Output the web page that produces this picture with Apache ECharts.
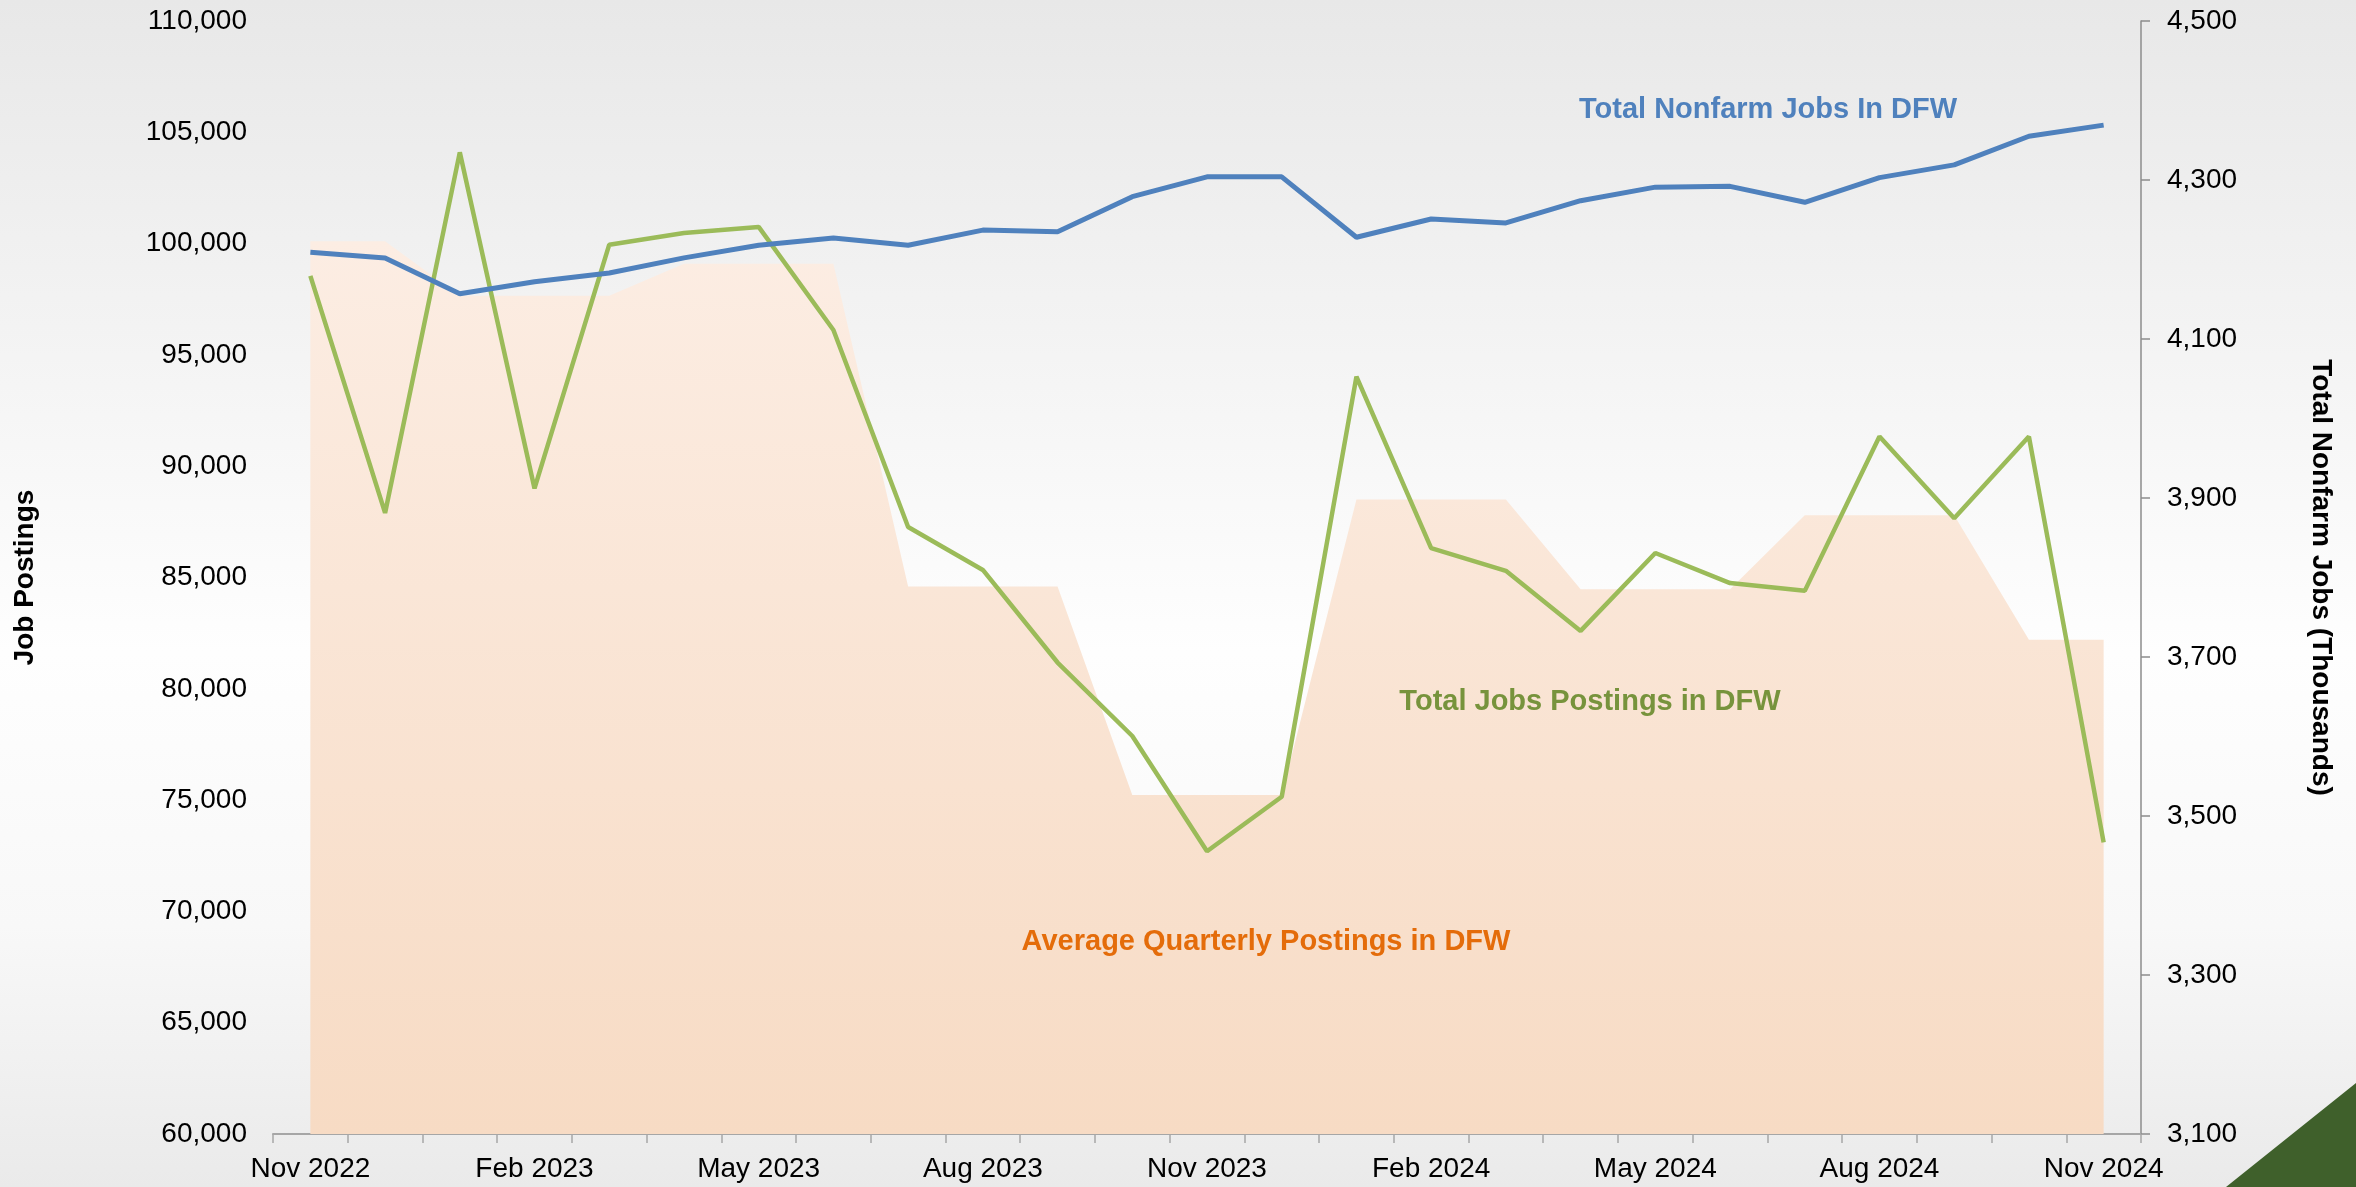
<!DOCTYPE html>
<html>
<head>
<meta charset="utf-8">
<title>DFW Job Postings vs Nonfarm Jobs</title>
<script src="https://cdn.jsdelivr.net/npm/echarts@6/dist/echarts.min.js"></script>
<style>
  html, body { margin: 0; padding: 0; }
  #main { width: 2356px; height: 1187px; }
</style>
</head>
<body>
<div id="main"></div>
<script>
// months on the x axis
var months = [
  'Nov 2022', 'Dec 2022', 'Jan 2023', 'Feb 2023', 'Mar 2023', 'Apr 2023', 'May 2023',
  'Jun 2023', 'Jul 2023', 'Aug 2023', 'Sep 2023', 'Oct 2023', 'Nov 2023', 'Dec 2023',
  'Jan 2024', 'Feb 2024', 'Mar 2024', 'Apr 2024', 'May 2024', 'Jun 2024', 'Jul 2024',
  'Aug 2024', 'Sep 2024', 'Oct 2024', 'Nov 2024'
];

// Total job postings in DFW (left axis)
var jobPostings = [
  98550, 87900, 104100, 89000, 99950, 100480, 100750, 96120, 87270, 85340, 81180, 77880,
  72700, 75150, 94020, 86320, 85300, 82600, 86100, 84750, 84400, 91330, 87660, 91330, 73100
];

// average quarterly postings (left axis, area)
var avgQuarterlyPostings = [
  100100, 100100, 97660, 97660, 97660, 99100, 99100, 99100, 84600, 84600, 84600, 75230,
  75230, 75230, 88500, 88500, 88500, 84470, 84470, 84470, 87800, 87800, 87800, 82200, 82200
];

// total nonfarm jobs in DFW, thousands (right axis)
var nonfarmJobs = [
  4209, 4202, 4157, 4172, 4183, 4202, 4218, 4227, 4218, 4237, 4235, 4279,
  4304, 4304, 4228, 4251, 4246, 4274, 4291, 4292, 4272, 4303, 4319, 4355, 4369
];

// tick labels
var postingTicks = [60000, 65000, 70000, 75000, 80000, 85000, 90000, 95000, 100000, 105000, 110000];
var nonfarmTicks = [3100, 3300, 3500, 3700, 3900, 4100, 4300, 4500];

var FONT = '"Liberation Sans", Arial, sans-serif';

function fmt(v) {
  return Number(v).toLocaleString('en-US');
}

var myChart = echarts.init(document.getElementById('main'));

var option = {
  animation: false,
  backgroundColor: new echarts.graphic.LinearGradient(0, 0, 0, 1, [
    { offset: 0, color: '#e8e8e8' },
    { offset: 0.55, color: '#fefefe' },
    { offset: 0.78, color: '#f8f8f8' },
    { offset: 1, color: '#eaeaea' }
  ]),
  textStyle: { fontFamily: FONT },
  grid: {
    left: 273,
    right: 215,
    top: 21,
    bottom: 53,
    containLabel: false,
    outerBoundsMode: 'none'
  },
  xAxis: {
    type: 'category',
    data: months,
    boundaryGap: true,
    axisLine: { lineStyle: { color: '#a6a6a6', width: 2 } },
    axisTick: { show: true, interval: 0, length: 9, lineStyle: { color: '#a6a6a6', width: 1.5 } },
    axisLabel: {
      interval: 2,
      margin: 21,
      color: '#000',
      fontSize: 28,
      fontFamily: FONT
    },
    splitLine: { show: false }
  },
  yAxis: [
    {
      type: 'value',
      position: 'left',
      min: postingTicks[0],
      max: postingTicks[postingTicks.length - 1],
      name: 'Job Postings',
      nameLocation: 'middle',
      nameGap: 234,
      nameTextStyle: { color: '#000', fontSize: 28, fontWeight: 'bold', fontFamily: FONT },
      axisLine: { show: false },
      axisTick: { show: false },
      splitLine: { show: false },
      axisLabel: {
        customValues: postingTicks,
        showMinLabel: true,
        showMaxLabel: true,
        margin: 26,
        color: '#000',
        fontSize: 28,
        fontFamily: FONT,
        formatter: fmt
      }
    },
    {
      type: 'value',
      position: 'right',
      min: nonfarmTicks[0],
      max: nonfarmTicks[nonfarmTicks.length - 1],
      name: 'Total Nonfarm Jobs (Thousands)',
      nameLocation: 'middle',
      nameRotate: -90,
      nameGap: 166,
      nameTextStyle: { color: '#000', fontSize: 28, fontWeight: 'bold', fontFamily: FONT },
      axisLine: { show: true, lineStyle: { color: '#8c8c8c', width: 1.5 } },
      axisTick: { show: true, customValues: nonfarmTicks, length: 9, lineStyle: { color: '#8c8c8c', width: 1.5 } },
      splitLine: { show: false },
      axisLabel: {
        customValues: nonfarmTicks,
        showMinLabel: true,
        showMaxLabel: true,
        margin: 26,
        color: '#000',
        fontSize: 28,
        fontFamily: FONT,
        formatter: fmt
      }
    }
  ],
  series: [
    {
      name: 'Average Quarterly Postings in DFW',
      type: 'line',
      yAxisIndex: 0,
      data: avgQuarterlyPostings,
      symbol: 'none',
      lineStyle: { width: 0, opacity: 0 },
      areaStyle: {
        origin: 'start',
        opacity: 1,
        color: new echarts.graphic.LinearGradient(0, 0, 0, 1, [
          { offset: 0, color: '#fcede3' },
          { offset: 1, color: '#f7dbc4' }
        ])
      },
      z: 1
    },
    {
      name: 'Total Jobs Postings in DFW',
      type: 'line',
      yAxisIndex: 0,
      data: jobPostings,
      symbol: 'none',
      lineStyle: { color: '#9bbb59', width: 4.5 },
      itemStyle: { color: '#9bbb59' },
      z: 2
    },
    {
      name: 'Total Nonfarm Jobs In DFW',
      type: 'line',
      yAxisIndex: 1,
      data: nonfarmJobs,
      symbol: 'none',
      lineStyle: { color: '#4f81bd', width: 5 },
      itemStyle: { color: '#4f81bd' },
      z: 3
    }
  ],
  graphic: [
    {
      type: 'polygon',
      shape: { points: [[2356, 1083], [2356, 1187], [2226, 1187]] },
      style: { fill: '#3f602b' },
      z: 10
    },
    {
      type: 'text',
      x: 1768, y: 110,
      style: { text: 'Total Nonfarm Jobs In DFW', fill: '#4f81bd', font: 'bold 29px ' + FONT, align: 'center', verticalAlign: 'middle' },
      z: 10
    },
    {
      type: 'text',
      x: 1590, y: 702,
      style: { text: 'Total Jobs Postings in DFW', fill: '#77933c', font: 'bold 29px ' + FONT, align: 'center', verticalAlign: 'middle' },
      z: 10
    },
    {
      type: 'text',
      x: 1266, y: 942,
      style: { text: 'Average Quarterly Postings in DFW', fill: '#e46c0a', font: 'bold 29px ' + FONT, align: 'center', verticalAlign: 'middle' },
      z: 10
    }
  ]
};

// Load data into the ECharts instance
myChart.setOption(option);
</script>
</body>
</html>
